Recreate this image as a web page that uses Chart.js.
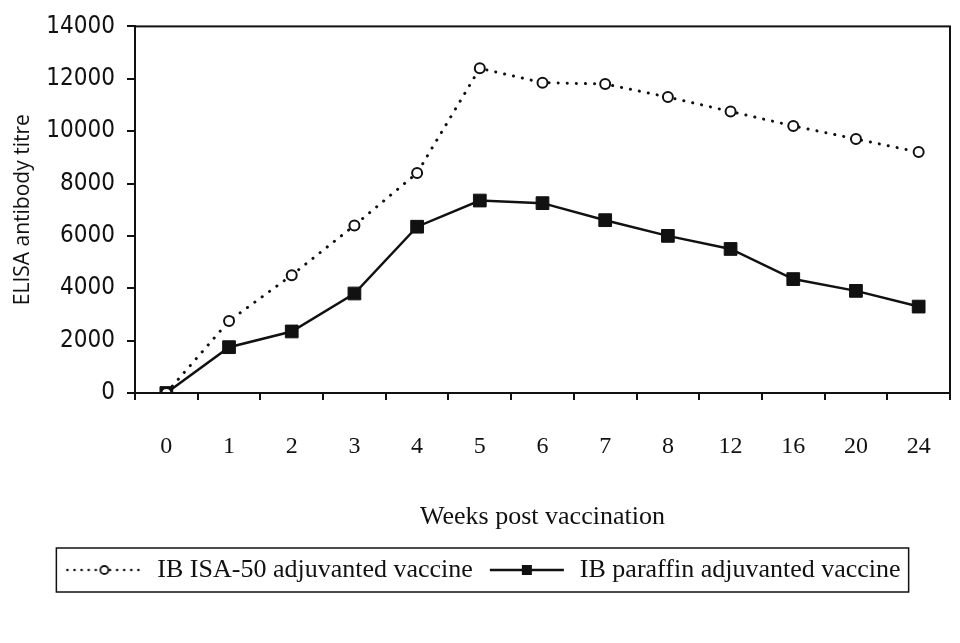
<!DOCTYPE html>
<html>
<head>
<meta charset="utf-8">
<script src="https://cdn.jsdelivr.net/npm/chart.js@4.4.1/dist/chart.umd.min.js"></script>
<style>
  html, body { margin: 0; padding: 0; background: #fff; }
  #wrap { width: 960px; height: 643px; }
</style>
</head>
<body>
<div id="wrap"><canvas id="c" width="960" height="643"></canvas></div>
<script>
// weeks post vaccination (category axis)
const weeks = ['0', '1', '2', '3', '4', '5', '6', '7', '8', '12', '16', '20', '24'];
// ELISA antibody titre
const isa50 = [0, 2750, 4500, 6400, 8400, 12400, 11850, 11800, 11300, 10750, 10200, 9700, 9200];
const paraffin = [0, 1750, 2350, 3800, 6350, 7350, 7250, 6600, 6000, 5500, 4350, 3900, 3300];
const yTicks = [0, 2000, 4000, 6000, 8000, 10000, 12000, 14000];

const serif = "'Liberation Serif', 'Times New Roman', serif";
const narrow = "'DejaVu Sans Condensed', 'Liberation Serif', serif";

// small legend samples: line + marker
function sample(dotted) {
  const cv = document.createElement('canvas');
  cv.width = 80; cv.height = 20;
  const g = cv.getContext('2d');
  g.strokeStyle = '#111';
  g.fillStyle = '#111';
  g.lineCap = dotted ? 'round' : 'butt';
  g.lineWidth = 2.5;
  g.setLineDash(dotted ? [0.1, 7] : []);
  g.beginPath(); g.moveTo(3, 10); g.lineTo(77, 10); g.stroke();
  g.setLineDash([]);
  if (dotted) {
    g.fillStyle = '#fff';
    g.lineWidth = 1.8;
    g.beginPath(); g.arc(40, 10, 4, 0, Math.PI * 2); g.fill(); g.stroke();
  } else {
    g.fillRect(35, 5, 10, 10);
  }
  return cv;
}
const legendIcons = [sample(true), sample(false)];

const frame = {
  id: 'frame',
  afterDraw(chart) {
    const { ctx, chartArea: a, legend } = chart;
    ctx.save();
    ctx.strokeStyle = '#111';
    ctx.lineWidth = 2;
    ctx.strokeRect(a.left, a.top, a.right - a.left, a.bottom - a.top);
    const hb = legend.legendHitBoxes;
    if (hb && hb.length) {
      const l = Math.min(...hb.map(b => b.left)) - 8;
      const r = Math.max(...hb.map(b => b.left + b.width)) + 8;
      const t = Math.min(...hb.map(b => b.top)) - 9;
      const bt = Math.max(...hb.map(b => b.top + b.height)) + 9;
      ctx.lineWidth = 1.5;
      ctx.strokeRect(l, t, r - l, bt - t);
    }
    ctx.restore();
  }
};

new Chart(document.getElementById('c'), {
  type: 'line',
  data: {
    labels: weeks,
    datasets: [
      {
        label: 'IB ISA-50 adjuvanted vaccine',
        data: isa50,
        borderColor: '#111',
        borderWidth: 3,
        borderDash: [0.1, 9],
        borderCapStyle: 'round',
        pointStyle: 'circle',
        pointRadius: 5,
        pointBorderWidth: 2,
        pointBackgroundColor: '#fff',
        pointBorderColor: '#111',
        tension: 0
      },
      {
        label: 'IB paraffin adjuvanted vaccine',
        data: paraffin,
        borderColor: '#111',
        borderWidth: 2.5,
        pointStyle: 'rect',
        pointRadius: 9,
        pointBorderWidth: 1,
        pointBackgroundColor: '#111',
        pointBorderColor: '#111',
        tension: 0
      }
    ]
  },
  options: {
    responsive: false,
    animation: false,
    layout: { padding: { top: 14, left: 10, right: 5, bottom: 50 } },
    plugins: {
      tooltip: { enabled: false },
      legend: {
        position: 'bottom',
        labels: {
          color: '#111',
          font: { family: serif, size: 26 },
          usePointStyle: true,
          pointStyleWidth: 80,
          padding: 14,
          generateLabels(chart) {
            const items = Chart.defaults.plugins.legend.labels.generateLabels(chart);
            items.forEach((it, i) => { it.pointStyle = legendIcons[i]; });
            return items;
          }
        }
      }
    },
    scales: {
      x: {
        offset: true,
        grid: { offset: true, drawOnChartArea: false, color: '#111', tickLength: 7, lineWidth: 2 },
        border: { color: '#111', width: 2 },
        ticks: { color: '#111', font: { family: serif, size: 24 }, padding: 32, maxRotation: 0 },
        title: {
          display: true,
          text: 'Weeks post vaccination',
          color: '#111',
          font: { family: serif, size: 26 },
          padding: { top: 4, bottom: 10 }
        },
        afterFit(s) {
          s.height = 150;
          s.paddingLeft = 0;
          s.paddingRight = 0;
        }
      },
      y: {
        min: 0,
        max: 14000,
        afterBuildTicks(s) { s.ticks = yTicks.map(v => ({ value: v })); },
        grid: { drawOnChartArea: false, color: '#111', tickLength: 8, lineWidth: 2 },
        border: { color: '#111', width: 2 },
        ticks: {
          color: '#111',
          font: { family: narrow, size: 24 },
          padding: 12,
          callback: v => String(v)
        },
        title: {
          display: true,
          text: 'ELISA antibody titre',
          color: '#111',
          font: { family: "'Open Sans', 'DejaVu Sans', sans-serif", size: 21 },
          padding: { top: 0, bottom: 2 }
        },
        afterFit(s) { s.width = 125; }
      }
    }
  },
  plugins: [frame]
});
</script>
</body>
</html>
